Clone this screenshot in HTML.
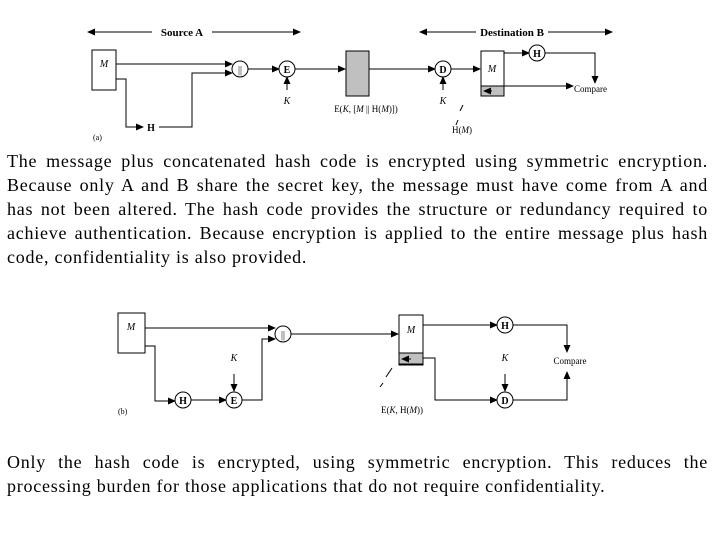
<!DOCTYPE html>
<html><head><style>
body{margin:0;width:720px;height:540px;background:#fff;position:relative;overflow:hidden}
svg{position:absolute;left:0;top:0}
.p{position:absolute;left:7px;width:701px;font-family:"Liberation Serif",serif;font-size:18px;letter-spacing:0.75px;line-height:24px;color:#000}
.p div{text-align:justify;text-align-last:justify;white-space:nowrap;height:24px}
.p div.l{text-align-last:left}
</style></head><body>
<svg width="720" height="540" font-family="Liberation Serif,serif" font-size="10">
<defs><marker id="a" markerWidth="8" markerHeight="8" refX="7" refY="4" orient="auto" markerUnits="userSpaceOnUse"><path d="M0,0.5 L8,4 L0,7.5z" fill="#000"/></marker></defs>
<g stroke="#000" stroke-width="1" fill="none">
<line x1="152" y1="32" x2="88" y2="32" marker-end="url(#a)"/>
<line x1="212" y1="32" x2="300" y2="32" marker-end="url(#a)"/>
<line x1="476" y1="32" x2="420" y2="32" marker-end="url(#a)"/>
<line x1="548" y1="32" x2="612" y2="32" marker-end="url(#a)"/>
<rect x="92" y="50" width="24" height="40"/>
<path d="M116,64 H232" marker-end="url(#a)"/>
<path d="M116,79 H126 V127 H143" marker-end="url(#a)"/>
<path d="M159,127 H192 V73 H232" marker-end="url(#a)"/>
<circle cx="240" cy="69" r="8" fill="#fff"/>
<path d="M248,69 H279" marker-end="url(#a)"/>
<circle cx="287" cy="69" r="8" fill="#fff"/>
<path d="M287,90 V77" marker-end="url(#a)"/>
<path d="M295,69 H345" marker-end="url(#a)"/>
<rect x="346" y="51" width="23" height="45" fill="#c0c0c0"/>
<path d="M369,69 H435" marker-end="url(#a)"/>
<circle cx="443" cy="69" r="8" fill="#fff"/>
<path d="M443,90 V77" marker-end="url(#a)"/>
<path d="M451,69 H480" marker-end="url(#a)"/>
<rect x="481" y="51" width="23" height="45"/>
<rect x="481" y="86" width="23" height="10" fill="#c0c0c0"/>
<path d="M504,53 H529" marker-end="url(#a)"/>
<circle cx="537" cy="53" r="8" fill="#fff"/>
<path d="M545,53 H595 V83" marker-end="url(#a)"/>
<path d="M504,86 H573" marker-end="url(#a)"/>
<path d="M492,91 H484" marker-end="url(#a)"/>
<line x1="460" y1="111" x2="463" y2="105"/>
<line x1="456" y1="125" x2="458" y2="120"/>
<rect x="118" y="313" width="27" height="40"/>
<path d="M145,328 H275" marker-end="url(#a)"/>
<path d="M145,346 H155 V401 H175" marker-end="url(#a)"/>
<circle cx="183" cy="400" r="8" fill="#fff"/>
<path d="M191,400 H226" marker-end="url(#a)"/>
<circle cx="234" cy="400" r="8" fill="#fff"/>
<path d="M234,374 V391" marker-end="url(#a)"/>
<path d="M242,400 H262 V339 H275" marker-end="url(#a)"/>
<circle cx="283" cy="334" r="8" fill="#fff"/>
<path d="M291,334 H398" marker-end="url(#a)"/>
<rect x="399" y="315" width="24" height="50"/>
<rect x="399" y="353" width="24" height="11" fill="#c0c0c0"/>
<path d="M423,325 H497" marker-end="url(#a)"/>
<circle cx="505" cy="325" r="8" fill="#fff"/>
<path d="M513,325 H567 V352" marker-end="url(#a)"/>
<path d="M423,358 H435 V400 H497" marker-end="url(#a)"/>
<circle cx="505" cy="400" r="8" fill="#fff"/>
<path d="M505,374 V391" marker-end="url(#a)"/>
<path d="M513,400 H567 V372" marker-end="url(#a)"/>
<path d="M411,359 H402" marker-end="url(#a)"/>
<line x1="386" y1="377" x2="392" y2="368"/>
<line x1="380" y1="387" x2="383" y2="383"/>
</g>
<g font-size="10" text-anchor="middle">
<text x="240" y="73">||</text>
<text x="287" y="73" font-weight="bold">E</text>
<text x="443" y="73" font-weight="bold">D</text>
<text x="537" y="57" font-weight="bold">H</text>
<text x="151" y="131" font-weight="bold">H</text>
<text x="283" y="338">||</text>
<text x="183" y="404" font-weight="bold">H</text>
<text x="234" y="404" font-weight="bold">E</text>
<text x="505" y="329" font-weight="bold">H</text>
<text x="505" y="404" font-weight="bold">D</text>
</g>
<g font-size="11" font-weight="bold" text-anchor="middle">
<text x="182" y="36">Source A</text>
<text x="512" y="36">Destination B</text>
</g>
<g font-size="10" text-anchor="middle">
<text x="104" y="67" font-style="italic">M</text>
<text x="287" y="104" font-style="italic">K</text>
<text x="443" y="104" font-style="italic">K</text>
<text x="492" y="72" font-style="italic">M</text>
<text x="366" y="112" font-size="9">E(<tspan font-style="italic">K</tspan>, [<tspan font-style="italic">M</tspan> || H(<tspan font-style="italic">M</tspan>)])</text>
<text x="462" y="133" font-size="9">H(<tspan font-style="italic">M</tspan>)</text>
<text x="131" y="330" font-style="italic">M</text>
<text x="411" y="333" font-style="italic">M</text>
<text x="234" y="361" font-style="italic">K</text>
<text x="505" y="361" font-style="italic">K</text>
<text x="402" y="413" font-size="9">E(<tspan font-style="italic">K</tspan>, H(<tspan font-style="italic">M</tspan>))</text>
<text x="570" y="364" font-size="9">Compare</text>
</g>
<text x="574" y="92" font-size="9">Compare</text>
<text x="93" y="140" font-size="8">(a)</text>
<text x="118" y="414" font-size="8">(b)</text>
</svg>
<div class="p" style="top:149px">
<div>The message plus concatenated hash code is encrypted using symmetric encryption.</div>
<div>Because only A and B share the secret key, the message must have come from A and</div>
<div>has not been altered. The hash code provides the structure or redundancy required to</div>
<div>achieve authentication. Because encryption is applied to the entire message plus hash</div>
<div class="l">code, confidentiality is also provided.</div>
</div>
<div class="p" style="top:450px">
<div>Only the hash code is encrypted, using symmetric encryption. This reduces the</div>
<div class="l">processing burden for those applications that do not require confidentiality.</div>
</div>
</body></html>
